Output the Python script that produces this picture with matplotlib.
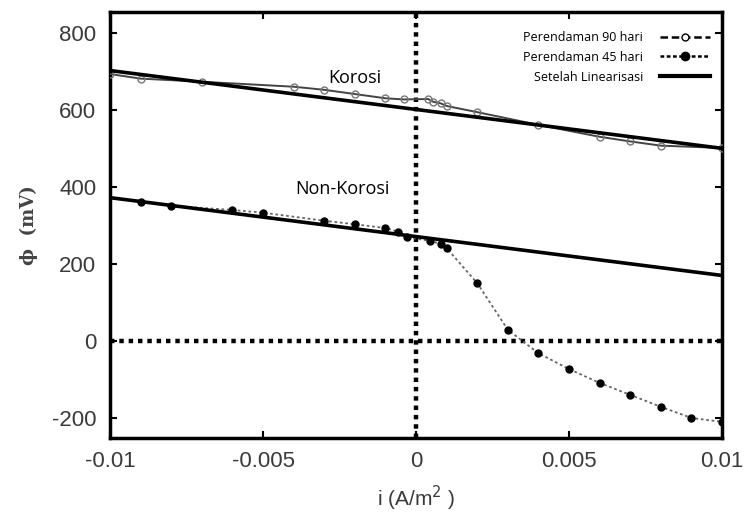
import matplotlib
matplotlib.use("Agg")
import matplotlib.pyplot as plt
from matplotlib.lines import Line2D

plt.rcParams["axes.unicode_minus"] = False

# Perendaman 90 hari (korosi)
i_90 = [-0.01, -0.009, -0.007, -0.004, -0.003, -0.002, -0.001, -0.0004,
        0.0004, 0.00056, 0.0008, 0.001, 0.002, 0.004, 0.006, 0.007, 0.008, 0.01]
phi_90 = [693, 681, 673, 660, 652, 641, 630, 627,
          628, 621, 617, 610, 594, 561, 530, 518, 507, 501]

# Perendaman 45 hari (non-korosi)
i_45 = [-0.009, -0.008, -0.006, -0.005, -0.003, -0.002, -0.001, -0.0006, -0.0003,
        0.00046, 0.0008, 0.001, 0.002, 0.003, 0.004, 0.005, 0.006, 0.007, 0.008, 0.009, 0.01]
phi_45 = [362, 351, 340, 333, 312, 303, 293, 284, 269,
          260, 252, 241, 150, 29, -32, -73, -109, -140, -171, -200, -210]

# Setelah linearisasi
i_lin = [-0.01, 0.01]
phi_lin_korosi = [702, 500]
phi_lin_nonkorosi = [372, 170]

fig = plt.figure(figsize=(7.45, 5.15), dpi=100)
ax = fig.add_axes([0.1477, 0.1495, 0.8215, 0.8272])

# zero lines
ax.axvline(0, color="black", lw=3.2, ls=(0, (1, 1.1)), zorder=1)
ax.axhline(0, color="black", lw=3.2, ls=(0, (1, 1.1)), zorder=1)

ax.plot(i_90, phi_90, color="#444444", lw=1.4, marker="o", ms=5,
        mfc="none", mec="#777777", mew=1.0, zorder=3)
ax.plot(i_45, phi_45, color="#666666", lw=1.3, ls=(0, (1.5, 1.5)), marker="o", ms=5,
        mfc="black", mec="black", zorder=3)
ax.plot(i_lin, phi_lin_korosi, color="black", lw=2.6, zorder=4)
ax.plot(i_lin, phi_lin_nonkorosi, color="black", lw=2.6, zorder=4)

ax.text(-0.002, 660, "Korosi", fontsize=13, family="Open Sans", ha="center", va="bottom")
ax.text(-0.0024, 370, "Non-Korosi", fontsize=13, family="Open Sans", ha="center", va="bottom")

ax.set_xlim(-0.01, 0.01)
ax.set_ylim(-252, 854)
ax.set_xticks([-0.01, -0.005, 0, 0.005, 0.01])
ax.set_xticklabels(["-0.01", "-0.005", "0", "0.005", "0.01"])
ax.set_yticks([-200, 0, 200, 400, 600, 800])

for s in ax.spines.values():
    s.set_linewidth(2.5)
ax.tick_params(direction="in", length=5, width=1.5, top=True, right=True,
               labelsize=16, labelcolor="#3a3a3a")
ax.tick_params(axis="y", pad=10)
ax.tick_params(axis="x", pad=9)
for lab in ax.get_xticklabels() + ax.get_yticklabels():
    lab.set_family("Liberation Sans")

ax.set_xlabel("i (A/m$^{2}$ )", fontsize=15, family="Liberation Sans", color="#3a3a3a", labelpad=9)
ax.set_ylabel("ϕ  (mV)", fontsize=13, family="DejaVu Serif", fontweight="bold", color="#444444", labelpad=10)

handles = [
    Line2D([], [], color="black", lw=1.8, ls=(0, (3, 1.5)), marker="o", ms=5, mfc="white", mec="black"),
    Line2D([], [], color="black", lw=1.8, ls=(0, (1.5, 1)), marker="o", ms=6, mfc="black", mec="black"),
    Line2D([], [], color="black", lw=3),
]
labels = ["Perendaman 90 hari", "Perendaman 45 hari", "Setelah Linearisasi"]
ax.legend(handles, labels, loc="upper right", bbox_to_anchor=(1.0, 0.985), frameon=False,
          markerfirst=False, prop={"family": "Open Sans", "size": 9}, handlelength=4.0,
          labelspacing=0.55, borderaxespad=0.6, handletextpad=1.3)

fig.savefig("out.png", dpi=100)
